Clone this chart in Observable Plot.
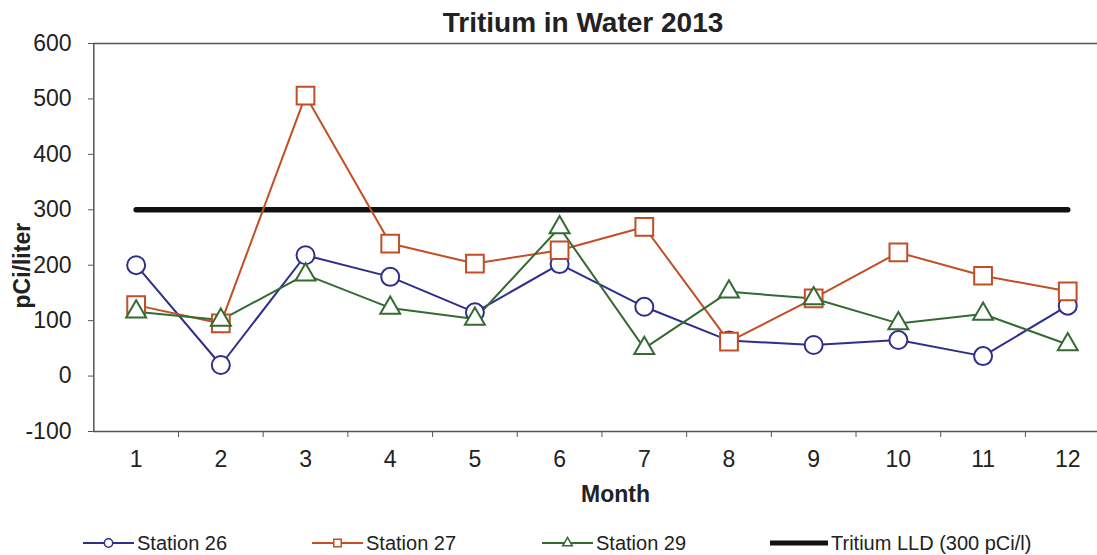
<!DOCTYPE html>
<html><head><meta charset="utf-8">
<script src="https://cdn.jsdelivr.net/npm/d3@7"></script>
<script src="https://cdn.jsdelivr.net/npm/@observablehq/plot@0.6"></script>
<style>
body{margin:0;background:#fff;font-family:"Liberation Sans",Arial,sans-serif;color:#222;width:1097px;height:555px;position:relative;overflow:hidden}
#title{position:absolute;left:0;top:7px;width:1166px;text-align:center;font-weight:bold;font-size:28px;line-height:32px}
#chart{position:absolute;left:0;top:42px}
.leg{position:absolute;top:530px;height:26px;display:flex;align-items:center;font-size:20px;white-space:nowrap}
.leg svg{margin-right:3px}
</style></head><body>
<div id="title">Tritium in Water 2013</div>
<div id="chart"></div>
<div id="legend"></div>
<script>
const months = [1,2,3,4,5,6,7,8,9,10,11,12];
const station26 = [200, 20, 218, 179, 115, 202, 125, 64, 56, 65, 36, 127];
const station27 = [128, 95, 506, 239, 203, 227, 269, 62, 140, 223, 181, 153];
const station29 = [116, 101, 183, 123, 103, 268, 50, 152, 140, 95, 112, 57];
const lldValue = 300;
const yTicks = [-100, 0, 100, 200, 300, 400, 500, 600];
const seriesNames = ["Station 26", "Station 27", "Station 29", "Tritium LLD (300 pCi/l)"];
const seriesColors = ["#2e2f8a", "#c24e26", "#336b33", "#111111"];
const seriesSymbols = ["circle", "square", "triangle", null];

const series = [station26, station27, station29];
const symbolR = {circle: 9, square: 10, triangle: 7.4};
const toRows = (vals) => months.map((m, i) => ({month: m, value: vals[i]}));
const boundaries = months.slice(0, -1).map(m => m + 0.5);

const marks = [
  Plot.ruleY([600], {stroke: "#555", strokeWidth: 1.5}),
  Plot.ruleY([-100], {stroke: "#555", strokeWidth: 1.5}),
  Plot.ruleX([0.5], {stroke: "#555", strokeWidth: 1.5}),
  Plot.axisY({ticks: yTicks, tickSize: 5, tickPadding: 17, stroke: "#555", label: null, fontSize: 23, tickFormat: d => String(d)}),
  Plot.axisX({ticks: months, tickSize: 0, tickPadding: 19, label: null, fontSize: 23, tickFormat: d => String(d)}),
  Plot.axisX({ticks: boundaries, tickSize: 6, stroke: "#555", tickFormat: () => "", label: null}),
  Plot.line(toRows(months.map(() => lldValue)), {x: "month", y: "value", stroke: seriesColors[3], strokeWidth: 5.5})
];
series.forEach((vals, i) => {
  const rows = toRows(vals);
  marks.push(Plot.line(rows, {x: "month", y: "value", stroke: seriesColors[i], strokeWidth: 2}));
});
series.forEach((vals, i) => {
  const rows = toRows(vals);
  marks.push(Plot.dot(rows, {x: "month", y: "value", symbol: () => seriesSymbols[i], r: symbolR[seriesSymbols[i]], fill: "white", stroke: seriesColors[i], strokeWidth: 2}));
});
marks.push(Plot.text(["Month"], {frameAnchor: "bottom", dx: 20, dy: 70, fontWeight: "bold", fontSize: 23}));
marks.push(Plot.text(["pCi/liter"], {frameAnchor: "left", dx: -71, dy: 71, rotate: -90, fontWeight: "bold", fontSize: 23}));

const chart = Plot.plot({
  width: 1097,
  height: 480,
  marginLeft: 93,
  marginRight: 0,
  marginTop: 1,
  marginBottom: 91,
  x: {type: "linear", domain: [0.5, 12.5], range: [93.3, 1109.6]},
  y: {domain: [-100, 600]},
  symbol: {type: "identity"},
  style: {fontFamily: "Liberation Sans, Arial, sans-serif", fontSize: "23px", color: "#222", background: "transparent", overflow: "visible"},
  marks
});
document.getElementById("chart").append(chart);

// legend
const legendLeft = [83, 312, 542, 770];
const legend = document.getElementById("legend");
seriesNames.forEach((name, i) => {
  const div = document.createElement("div");
  div.className = "leg";
  div.style.left = legendLeft[i] + "px";
  const ns = "http://www.w3.org/2000/svg";
  const svg = document.createElementNS(ns, "svg");
  const w = i === 3 ? 58 : 51;
  svg.setAttribute("width", w);
  svg.setAttribute("height", 14);
  const line = document.createElementNS(ns, "line");
  line.setAttribute("x1", 0); line.setAttribute("x2", w);
  line.setAttribute("y1", 7); line.setAttribute("y2", 7);
  line.setAttribute("stroke", seriesColors[i]);
  line.setAttribute("stroke-width", i === 3 ? 5 : 2);
  svg.append(line);
  const sym = seriesSymbols[i];
  if (sym) {
    const p = document.createElementNS(ns, "path");
    const size = sym === "triangle" ? 40 : 55;
    const s = {circle: d3.symbolCircle, square: d3.symbolSquare, triangle: d3.symbolTriangle}[sym];
    p.setAttribute("d", d3.symbol(s, size)());
    p.setAttribute("transform", "translate(25.5,7)");
    p.setAttribute("fill", "white");
    p.setAttribute("stroke", seriesColors[i]);
    p.setAttribute("stroke-width", 1.5);
    svg.append(p);
  }
  div.append(svg);
  const span = document.createElement("span");
  span.textContent = name;
  div.append(span);
  legend.append(div);
});
</script>
</body></html>
